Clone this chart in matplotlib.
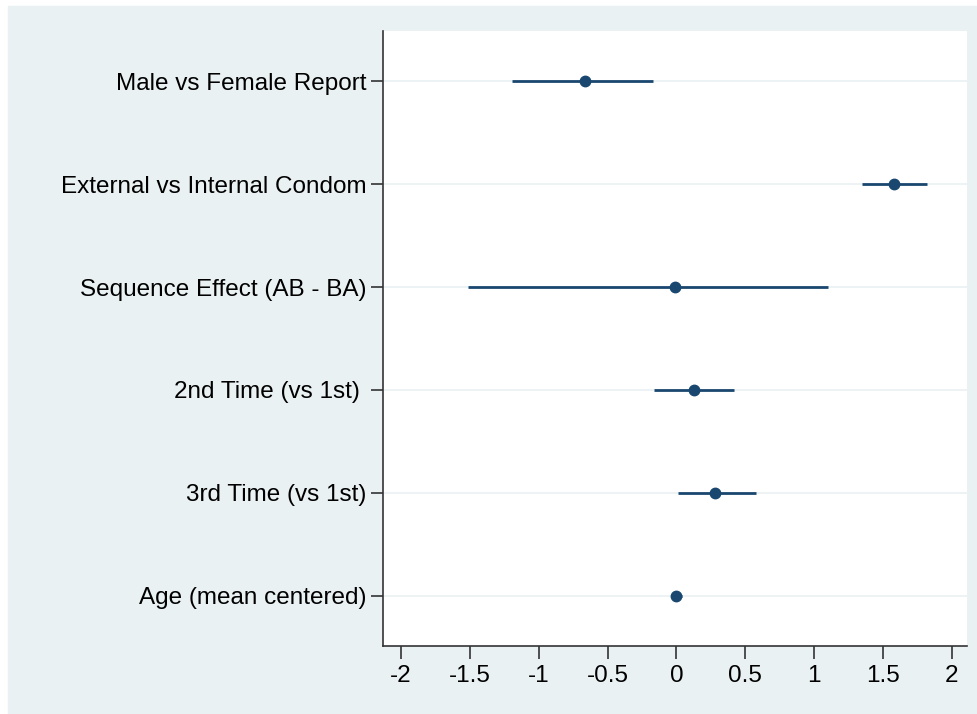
import matplotlib.pyplot as plt
import matplotlib.patches as mpatches

# coefficient estimates with 95% CI
labels   = ["Male vs Female Report", "External vs Internal Condom", "Sequence Effect (AB - BA)",
            "2nd Time (vs 1st) ", "3rd Time (vs 1st)", "Age (mean centered)"]
estimate = [-0.66, 1.58, -0.01, 0.13, 0.28, 0.00]
ci_low   = [-1.19, 1.35, -1.51, -0.16, 0.01, -0.04]
ci_high  = [-0.17, 1.82, 1.10, 0.42, 0.58, 0.04]
xticks   = [-2, -1.5, -1, -0.5, 0, 0.5, 1, 1.5, 2]

NAVY = "#1a476f"
BG = "#eaf1f3"

plt.rcParams['font.family'] = ['Liberation Sans', 'DejaVu Sans']

fig = plt.figure(figsize=(9.77, 7.14), dpi=100, facecolor="white")
# outer (graph region) background, leaves a thin white strip top/left
fig.patches.append(mpatches.Rectangle((8 / 977, -0.01), 1, 1.01 - 6 / 714,
                                      transform=fig.transFigure, color=BG, zorder=-10))

ax = fig.add_axes([383 / 977, 1 - 646 / 714, (967 - 383) / 977, (646 - 31) / 714])
ax.set_facecolor("white")

ypos = list(range(1, len(labels) + 1))
for y in ypos:
    ax.axhline(y, color=BG, lw=1.2, zorder=0)

ax.hlines(ypos, ci_low, ci_high, color=NAVY, lw=2, zorder=2)
ax.plot(estimate, ypos, 'o', color=NAVY, markersize=7.5, zorder=3)

ax.set_xlim(-2.13, 2.11)
ax.set_ylim(6.49, 0.51)
ax.set_yticks(ypos)
ax.set_yticklabels(labels, fontsize=17.5)
ax.set_xticks(xticks)
ax.set_xticklabels([f"{t:g}" for t in xticks], fontsize=17.5)
ax.tick_params(axis='both', direction='out', length=9, width=1.2, color="#333333", pad=3)
ax.tick_params(axis='x', pad=5)

for side in ("top", "right"):
    ax.spines[side].set_visible(False)
for side in ("left", "bottom"):
    ax.spines[side].set_color("#333333")
    ax.spines[side].set_linewidth(1.2)

fig.savefig("out.png", dpi=100, facecolor=fig.get_facecolor())
